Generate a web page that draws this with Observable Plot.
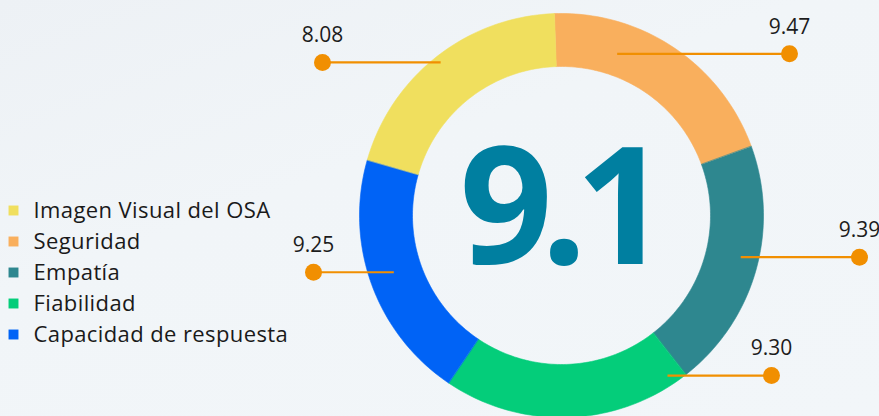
<!DOCTYPE html>
<html>
<head>
<meta charset="utf-8">
<script src="https://cdn.jsdelivr.net/npm/d3@7"></script>
<script src="https://cdn.jsdelivr.net/npm/@observablehq/plot@0.6"></script>
<style>
  html, body { margin: 0; padding: 0; }
  body { width: 879px; height: 416px; overflow: hidden;
         background: linear-gradient(160deg, #edf1f5 0%, #f1f5f8 40%, #f2f6f9 100%); }
  svg { display: block; background: transparent; }
</style>
</head>
<body>
<div id="chart"></div>
<script>
// ---- data ----
const categories = ["Imagen Visual del OSA", "Seguridad", "Empatía", "Fiabilidad", "Capacidad de respuesta"];
const values = [8.08, 9.47, 9.39, 9.30, 9.25];
const overall = 9.1;
// clockwise order of the ring, starting at 12 o'clock
const ringOrder = ["Seguridad", "Empatía", "Fiabilidad", "Capacidad de respuesta", "Imagen Visual del OSA"];

// ---- styles / layout (not data) ----
const colors = ["#f0df5e", "#f9af5d", "#2e878f", "#04cd7a", "#0063f6"];
const leaderColor = "#f18f01";
const W = 879, H = 416;
const cx = 561, cy = 215, rOuter = 202, rInner = 149;
const startAngle = -2; // degrees, clockwise from top
// leader: angle (deg) and radius of start point inside ring, x of the outer dot
const leaderLayout = {
  "Imagen Visual del OSA": {angle: 321.7, r: 195, dotX: 322},
  "Seguridad": {angle: 19, r: 171, dotX: 789},
  "Empatía": {angle: 103.1, r: 184, dotX: 859},
  "Fiabilidad": {angle: 146.5, r: 192, dotX: 771},
  "Capacidad de respuesta": {angle: 251.3, r: 177, dotX: 313}
};

// polar helper (angle in degrees clockwise from top; y grows downward)
const px = (a, r) => cx + r * Math.sin(a * Math.PI / 180);
const py = (a, r) => cy - r * Math.cos(a * Math.PI / 180);

// ring slices: equal shares
const share = 360 / ringOrder.length;
const ring = [];
ringOrder.forEach((cat, i) => {
  const a0 = startAngle + i * share, a1 = a0 + share;
  const n = 60;
  for (let k = 0; k <= n; k++) {
    const a = a0 + (a1 - a0) * k / n;
    ring.push({cat, x: px(a, rOuter), y: py(a, rOuter)});
  }
  for (let k = n; k >= 0; k--) {
    const a = a0 + (a1 - a0) * k / n;
    ring.push({cat, x: px(a, rInner), y: py(a, rInner)});
  }
});

// leaders
const leaders = categories.map((cat, i) => {
  const L = leaderLayout[cat];
  return {cat, x1: px(L.angle, L.r), x2: L.dotX, y: py(L.angle, L.r), label: values[i].toFixed(2)};
});

// legend rows
const legend = categories.map((cat, i) => ({cat, i}));
const legendY = i => 210 + i * 31;

const plot = Plot.plot({
  width: W, height: H,
  margin: 0,
  x: {domain: [0, W], range: [0, W], axis: null},
  y: {domain: [0, H], range: [0, H], axis: null},
  color: {domain: categories, range: colors},
  style: {background: "transparent", overflow: "visible"},
  marks: [
    Plot.line(ring, {x: "x", y: "y", z: "cat", fill: "cat", stroke: "cat", strokeWidth: 0.6, curve: "linear-closed"}),
    Plot.link(leaders, {x1: "x1", x2: "x2", y1: "y", y2: "y", stroke: leaderColor, strokeWidth: 2.2}),
    Plot.dot(leaders, {x: "x2", y: "y", r: 8.5, fill: leaderColor, stroke: null}),
    Plot.text(leaders, {x: "x2", y: d => d.y - 27, text: "label", fill: "#1c1c1c", fontSize: 21,
      fontFamily: "Open Sans", textAnchor: "middle", lineAnchor: "middle"}),
    Plot.text([overall], {x: 459, y: 263, text: d => d.toFixed(1), fill: "#007fa0", fontSize: 163,
      fontWeight: 700, fontFamily: "Open Sans", textAnchor: "start", lineAnchor: "bottom"}),
    Plot.dot(legend, {x: 13, y: d => legendY(d.i), symbol: "square", r: 5.6, fill: "cat", stroke: null}),
    Plot.text(legend, {x: 33, y: d => legendY(d.i), text: "cat", fill: "#1a1a1a", fontSize: 22,
      fontFamily: "Open Sans", textAnchor: "start", lineAnchor: "middle"})
  ]
});
const svg = d3.select(plot);
// tighten the glyph spacing of the big central figure
svg.selectAll("text").filter(function() { return this.textContent === overall.toFixed(1); })
  .attr("letter-spacing", "-12px");
svg.selectAll("text").filter(function() { return categories.includes(this.textContent); })
  .attr("letter-spacing", "0.4px");
document.getElementById("chart").appendChild(plot);
</script>
</body>
</html>
